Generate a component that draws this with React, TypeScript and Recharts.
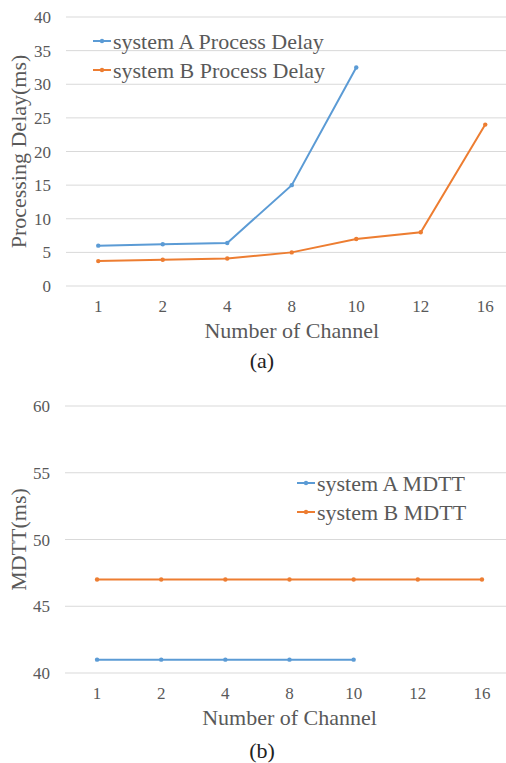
import React from 'react';
import { LineChart, Line, XAxis, YAxis, CartesianGrid, Label } from 'recharts';

const channels = ['1', '2', '4', '8', '10', '12', '16'];
const delayA = [6, 6.2, 6.4, 15, 32.5];
const delayB = [3.7, 3.9, 4.1, 5, 7, 8, 24];
const mdttA = [41, 41, 41, 41, 41];
const mdttB = [47, 47, 47, 47, 47, 47, 47];
const delayTicks = [0, 5, 10, 15, 20, 25, 30, 35, 40];
const mdttTicks = [40, 45, 50, 55, 60];

const BLUE = '#5B9BD5';
const ORANGE = '#ED7D31';
const TEXT = '#595959';
const FONT = '"Liberation Serif", "Times New Roman", Tinos, "DejaVu Serif", serif';
const CH = 370;

const delayData = channels.map((ch, i) => ({ ch, a: delayA[i], b: delayB[i] }));
const mdttData = channels.map((ch, i) => ({ ch, a: mdttA[i], b: mdttB[i] }));

// plain html legend, recharts Legend would eat the plot margin
const LegendBox = ({ items, left, top }: any) => (
  <div style={{ position: 'absolute', left, top, fontFamily: FONT, fontSize: 22, color: TEXT }}>
    {items.map((p: any) => (
      <div key={p.name} style={{ height: 29, lineHeight: '29px', display: 'flex', alignItems: 'center', whiteSpace: 'nowrap' }}>
        <svg width={20} height={10}>
          <line x1={0} y1={5} x2={18} y2={5} stroke={p.color} strokeWidth={2} />
          <circle cx={9} cy={5} r={2.2} fill={p.color} />
        </svg>
        <span>{p.name}</span>
      </div>
    ))}
  </div>
);

const yTitle = (text: string) => (props: any) => {
  const vb = props.viewBox || {};
  const cy = vb.y + vb.height / 2;
  return (
    <text x={26} y={cy} transform={`rotate(-90, 26, ${cy})`} textAnchor="middle" fill={TEXT} fontSize={22} fontFamily={FONT}>
      {text}
    </text>
  );
};

const xTitle = (text: string) => (props: any) => {
  const vb = props.viewBox || {};
  return (
    <text x={vb.x + vb.width / 2} y={vb.y + 52} textAnchor="middle" fill={TEXT} fontSize={22} fontFamily={FONT}>
      {text}
    </text>
  );
};

const tickStyle = { fill: TEXT, fontSize: 17, fontFamily: FONT };

const Panel = ({ data, top, margin, plotH, pad, yWidth, domain, ticks, yLabel, nameA, nameB, legendPos, caption }: any) => (
  <div style={{ position: 'absolute', left: 0, top, width: 520, height: 383 }}>
    <LineChart width={520} height={CH} data={data} margin={margin}>
      <CartesianGrid vertical={false} stroke="#D9D9D9" />
      <XAxis
        dataKey="ch"
        axisLine={false}
        tickLine={false}
        tickSize={0}
        tickMargin={14}
        height={CH - margin.top - margin.bottom - plotH}
        padding={{ left: pad, right: pad }}
        tick={tickStyle}
        interval={0}
      >
        <Label content={xTitle('Number of Channel')} />
      </XAxis>
      <YAxis
        width={yWidth}
        domain={domain}
        ticks={ticks}
        axisLine={false}
        tickLine={false}
        tickSize={0}
        tickMargin={15}
        tick={tickStyle}
        interval={0}
      >
        <Label content={yTitle(yLabel)} />
      </YAxis>
      <Line name={nameA} dataKey="a" stroke={BLUE} strokeWidth={2} dot={{ r: 2.2, fill: BLUE, stroke: BLUE, strokeWidth: 0 }} isAnimationActive={false} />
      <Line name={nameB} dataKey="b" stroke={ORANGE} strokeWidth={2} dot={{ r: 2.2, fill: ORANGE, stroke: ORANGE, strokeWidth: 0 }} isAnimationActive={false} />
    </LineChart>
    <LegendBox items={[{ name: nameA, color: BLUE }, { name: nameB, color: ORANGE }]} left={legendPos.left} top={legendPos.top} />
    <div style={{ position: 'absolute', left: 0, width: 524, top: caption.top, textAlign: 'center', fontFamily: FONT, fontSize: 22, color: '#222' }}>
      {caption.text}
    </div>
  </div>
);

export default function App() {
  return (
    <div style={{ position: 'absolute', left: 0, top: 0, width: 506, height: 763, overflow: 'hidden', background: '#fff' }}>
      <Panel
        data={delayData}
        top={0}
        margin={{ top: 17, right: 2.5, left: 0, bottom: 0 }}
        plotH={269}
        pad={32.25}
        yWidth={66}
        domain={[0, 40]}
        ticks={delayTicks}
        yLabel="Processing Delay(ms)"
        nameA="system A Process Delay"
        nameB="system B Process Delay"
        legendPos={{ left: 93, top: 26.5 }}
        caption={{ text: '(a)', top: 348 }}
      />
      <Panel
        data={mdttData}
        top={380}
        margin={{ top: 26, right: 6, left: 0, bottom: 0 }}
        plotH={267}
        pad={32.05}
        yWidth={65}
        domain={[40, 60]}
        ticks={mdttTicks}
        yLabel="MDTT(ms)"
        nameA="system A MDTT"
        nameB="system B MDTT"
        legendPos={{ left: 297, top: 88.5 }}
        caption={{ text: '(b)', top: 358 }}
      />
    </div>
  );
}
